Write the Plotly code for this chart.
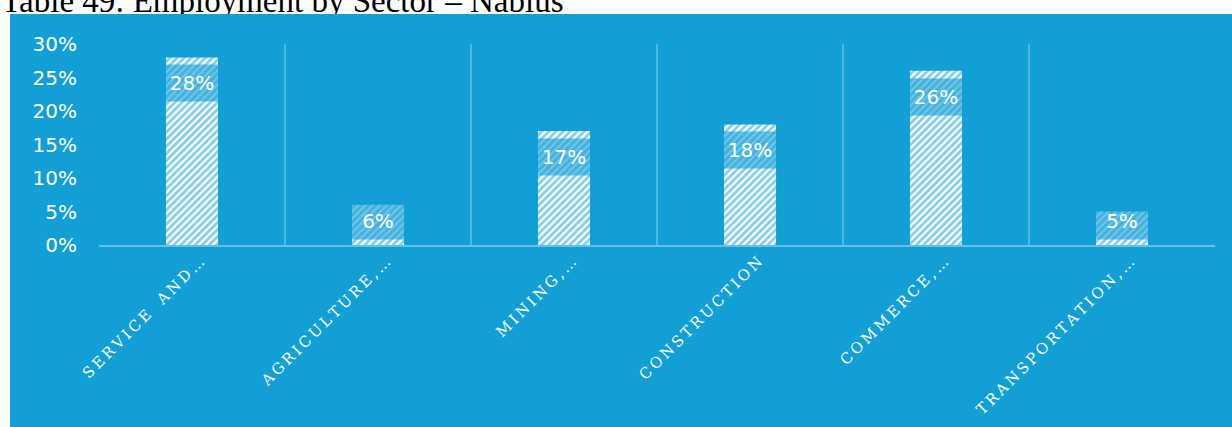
import plotly.graph_objects as go

# Employment share by sector, Nablus (percent)
sectors = ["SERVICE AND…", "AGRICULTURE,…", "MINING,…", "CONSTRUCTION", "COMMERCE,…", "TRANSPORTATION,…"]
shares = [28, 6, 17, 18, 26, 5]
y_ticks = [0, 5, 10, 15, 20, 25, 30]
title_text = "Table 49: Employment by Sector – Nablus"

W, H = 1232, 427
BLUE = "#119FD6"
BLUE_VEIL = "rgba(17,159,214,0.6)"


def spaced(label):
    # wide letter tracking for the category captions
    words = label.split(" ")
    return "\u2002\u2002".join("\u2009".join(list(w)) for w in words)


# plot area in pixels
px_l, px_r, px_t, px_b = 99, 1215, 44, 245

fig = go.Figure()

fig.add_trace(go.Bar(
    x=sectors,
    y=shares,
    width=0.28,
    marker=dict(
        color="white",
        line=dict(width=0),
        pattern=dict(shape="/", fgcolor=BLUE, bgcolor="white", size=5, solidity=0.58),
    ),
    hoverinfo="skip",
    showlegend=False,
    xaxis="x", yaxis="y",
))

# heading strip, clipped at the top edge of the blue panel
fig.add_trace(go.Scatter(
    x=[0], y=[0.7],
    mode="text",
    text=[title_text],
    textposition="middle right",
    textfont=dict(family="Liberation Serif", size=33, color="black"),
    cliponaxis=True,
    hoverinfo="skip",
    showlegend=False,
    xaxis="x2", yaxis="y2",
))

# value labels on a translucent band near the bar tops
for s, v in zip(sectors, shares):
    fig.add_annotation(
        x=s, y=max(v - 3.85, 3.6), xref="x", yref="y",
        text=f"{v}%",
        showarrow=False,
        font=dict(family="DejaVu Sans", size=20, color="white"),
        bgcolor=BLUE_VEIL,
        width=62, height=36, borderpad=0,
        xanchor="center", yanchor="middle",
    )

# blue panel behind the chart
fig.add_shape(
    type="rect", xref="paper", yref="paper",
    x0=10 / W, x1=1, y0=0, y1=(H - 14) / H,
    fillcolor=BLUE, line=dict(width=0), layer="below",
)

fig.update_layout(
    width=W, height=H,
    margin=dict(l=0, r=0, t=0, b=0),
    paper_bgcolor="white",
    plot_bgcolor="rgba(0,0,0,0)",
    xaxis=dict(
        domain=[px_l / W, px_r / W],
        anchor="y",
        type="category",
        tickson="boundaries",
        tickvals=sectors,
        ticktext=[spaced(s) for s in sectors],
        tickangle=-45,
        tickfont=dict(family="DejaVu Serif", size=15, color="white"),
        ticks="",
        ticklabelshift=8,
        showgrid=True,
        gridcolor="rgba(255,255,255,0.25)",
        gridwidth=1.5,
        showline=True,
        linecolor="rgba(255,255,255,0.35)",
        linewidth=2,
        zeroline=False,
        automargin=False,
        fixedrange=True,
    ),
    yaxis=dict(
        domain=[(H - px_b) / H, (H - px_t) / H],
        anchor="x",
        range=[0, 30],
        tickvals=y_ticks,
        ticktext=[f"{t}%" for t in y_ticks],
        tickfont=dict(family="DejaVu Sans", size=20, color="white"),
        ticks="",
        ticklabelstandoff=21,
        showgrid=False,
        zeroline=False,
        showline=False,
        automargin=False,
        fixedrange=True,
    ),
    xaxis2=dict(
        domain=[0, 1], anchor="y2", range=[-0.001, 1],
        visible=False, fixedrange=True,
    ),
    yaxis2=dict(
        domain=[(H - 14) / H, 1], anchor="x2", range=[0, 1],
        visible=False, fixedrange=True,
    ),
)

fig.write_html("out.html")
